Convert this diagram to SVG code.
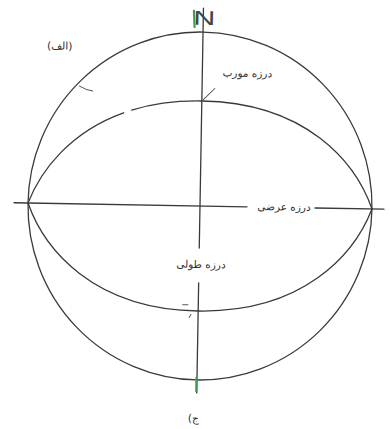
<svg xmlns="http://www.w3.org/2000/svg" width="390" height="429" viewBox="0 0 390 429">
<style>
.ln{fill:none;stroke:#3a3a3a;stroke-width:1.3;stroke-linecap:round}
.tk{fill:none;stroke:#555;stroke-width:1}
.gr{fill:none;stroke:#3aa050;stroke-width:2.2}
.lb{font-family:"DejaVu Sans",sans-serif;font-size:10.5px;fill:#2e2e2e}
</style>
<rect width="390" height="429" fill="#ffffff"/>
<g transform="rotate(1 200 206)">
<g id="connectors">
<ellipse id="sphere" class="ln" cx="200" cy="206" rx="172" ry="174"/>
<path id="arc-upper" class="ln" d="M28,206 C40.07,173.34 68.78,134.13 122,114.13 M130.03,111.32 C150.01,104.84 173.2,101 200,101 C305,101 355,160 372,206"/>
<path id="arc-lower" class="ln" d="M28,206 C45,252 95,311 200,311 C305,311 355,252 372,206"/>
<path id="axis-h" class="ln" d="M14,206 H247 M315,206 H384"/>
<path id="axis-v" class="ln" d="M200,8 V248 M200,283 V393"/>
<path class="tk" d="M201,100 L213,88"/>
<path class="tk" d="M77,88 Q84,92 91,93"/>
<path class="tk" d="M184,305 H190"/>
<path class="tk" d="M191,318 L193,314"/>
</g>
<g id="north">
<text x="190" y="25" font-family="Liberation Sans, sans-serif" font-size="20" fill="#444" textLength="22" lengthAdjust="spacingAndGlyphs">N</text>
<path class="gr" d="M190.5,10 L191.5,28"/>
</g>
<g id="south">
<path class="gr" d="M199.5,377 V392"/>
</g>
<g id="label-alef"><text class="lb" x="57" y="52" text-anchor="middle" font-size="12.5">(الف)</text></g>
<g id="label-movarrab"><text class="lb" x="245" y="76" text-anchor="middle">درزه مورب</text></g>
<g id="label-arzi"><text class="lb" x="284" y="209" text-anchor="middle" font-size="11">درزه عرضی</text></g>
<g id="label-tooli"><text class="lb" x="202" y="268" text-anchor="middle">درزه طولی</text></g>
<g id="label-jim"><text class="lb" x="197" y="422" text-anchor="middle" font-size="15">(ج</text></g>
</g>
</svg>
